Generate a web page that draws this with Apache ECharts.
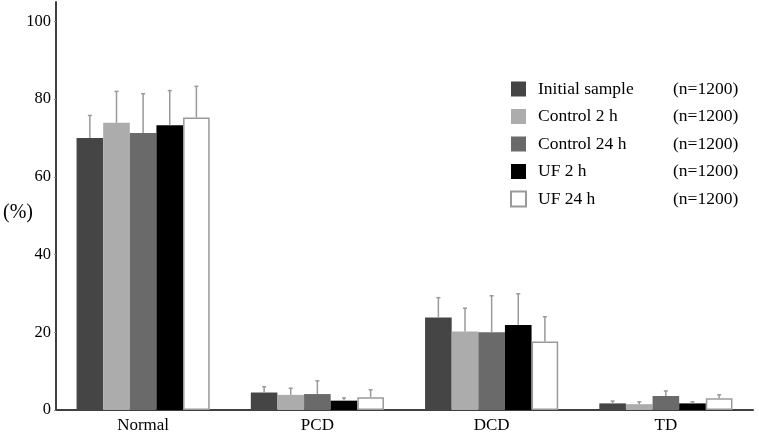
<!DOCTYPE html>
<html>
<head>
<meta charset="utf-8">
<script src="https://cdn.jsdelivr.net/npm/echarts@6/dist/echarts.min.js"></script>
<style>html,body{margin:0;padding:0;background:#fff}#c{width:759px;height:440px}</style>
</head>
<body>
<div id="c"></div>
<script>
const categories = ['Normal', 'PCD', 'DCD', 'TD'];
const seriesNames = ['Initial sample', 'Control 2 h', 'Control 24 h', 'UF 2 h', 'UF 24 h'];
const nCounts = [1200, 1200, 1200, 1200, 1200];
const initialSample = [70.0, 4.5, 23.8, 1.7];
const initialSampleErr = [5.8, 1.5, 5.1, 0.6];
const control2h = [73.9, 3.9, 20.2, 1.5];
const control2hErr = [8.1, 1.7, 6.0, 0.6];
const control24h = [71.3, 4.1, 20.0, 3.6];
const control24hErr = [10.1, 3.4, 9.4, 1.3];
const uf2h = [73.3, 2.4, 21.9, 1.7];
const uf2hErr = [8.9, 0.7, 8.0, 0.4];
const uf24h = [75.3, 3.3, 17.6, 3.0];
const uf24hErr = [8.0, 1.9, 6.4, 0.9];
const yTicks = [0, 20, 40, 60, 80, 100];

const values = [initialSample, control2h, control24h, uf2h, uf24h];
const errors = [initialSampleErr, control2hErr, control24hErr, uf2hErr, uf24hErr];
const colors = ['#454545', '#acacac', '#6a6a6a', '#000000', '#ffffff'];
const borders = ['#454545', '#acacac', '#6a6a6a', '#000000', '#9a9a9a'];
const catGap = 0.236;
const font = '"Liberation Serif", "DejaVu Serif", serif';

const chart = echarts.init(document.getElementById('c'));
const barSeries = values.map((v, i) => ({
  name: seriesNames[i],
  type: 'bar',
  data: v,
  barGap: '0%',
  barCategoryGap: (catGap * 100) + '%',
  itemStyle: { color: colors[i], borderColor: borders[i], borderWidth: i === 4 ? 1.5 : 0 },
  emphasis: { disabled: true }
}));
const errData = [];
values.forEach((v, s) => v.forEach((val, c) => errData.push([c, s, val, errors[s][c]])));

const option = {
  animation: false,
  grid: { left: 56, right: 6, top: 2, bottom: 30, containLabel: false },
  legend: {
    orient: 'vertical',
    left: 505,
    top: 75,
    itemWidth: 15,
    itemHeight: 15,
    itemGap: 9.5,
    icon: 'rect',
    data: seriesNames,
    formatter: name => `{a|${name}}{b|(n=${nCounts[seriesNames.indexOf(name)]})}`,
    textStyle: {
      fontFamily: font, fontSize: 17.5, color: '#000',
      rich: {
        a: { fontFamily: font, fontSize: 17.5, color: '#000', width: 135, padding: [0, 0, 0, 7], lineHeight: 16 },
        b: { fontFamily: font, fontSize: 17.5, color: '#000', lineHeight: 16 }
      }
    }
  },
  xAxis: {
    type: 'category',
    data: categories,
    axisLine: { lineStyle: { color: '#404040', width: 2 } },
    axisTick: { show: false },
    axisLabel: { fontFamily: font, fontSize: 17, color: '#000', margin: 7 }
  },
  yAxis: {
    type: 'value',
    min: 0,
    max: 105,
    interval: 20,
    axisLine: { show: true, lineStyle: { color: '#404040', width: 2 } },
    axisTick: { show: true, length: 2, lineStyle: { color: '#888' } },
    splitLine: { show: false },
    axisLabel: {
      fontFamily: font, fontSize: 16.5, color: '#000', margin: 5, showMaxLabel: false,
      formatter: v => (yTicks.indexOf(v) >= 0 ? String(v) : '')
    }
  },
  graphic: [{
    type: 'text', left: 3, top: 203,
    style: { text: '(%)', font: '20px "Liberation Serif", serif', fill: '#000' }
  }],
  series: barSeries.concat([{
    type: 'custom',
    z: 5,
    data: errData,
    encode: { x: 0, y: 2 },
    renderItem: (params, api) => {
      const c = api.value(0), s = api.value(1), v = api.value(2), e = api.value(3);
      const band = api.size([1, 0])[0];
      const bw = band * (1 - catGap) / 5;
      const base = api.coord([c, v]);
      const top = api.coord([c, v + e]);
      const x = base[0] + (s - 2) * bw;
      const st = { stroke: '#9a9a9a', lineWidth: 1.5 };
      return {
        type: 'group',
        children: [
          { type: 'line', shape: { x1: x, y1: base[1], x2: x, y2: top[1] }, style: st },
          { type: 'line', shape: { x1: x - 2, y1: top[1], x2: x + 2, y2: top[1] }, style: st }
        ]
      };
    }
  }])
};
chart.setOption(option);
</script>
</body>
</html>
